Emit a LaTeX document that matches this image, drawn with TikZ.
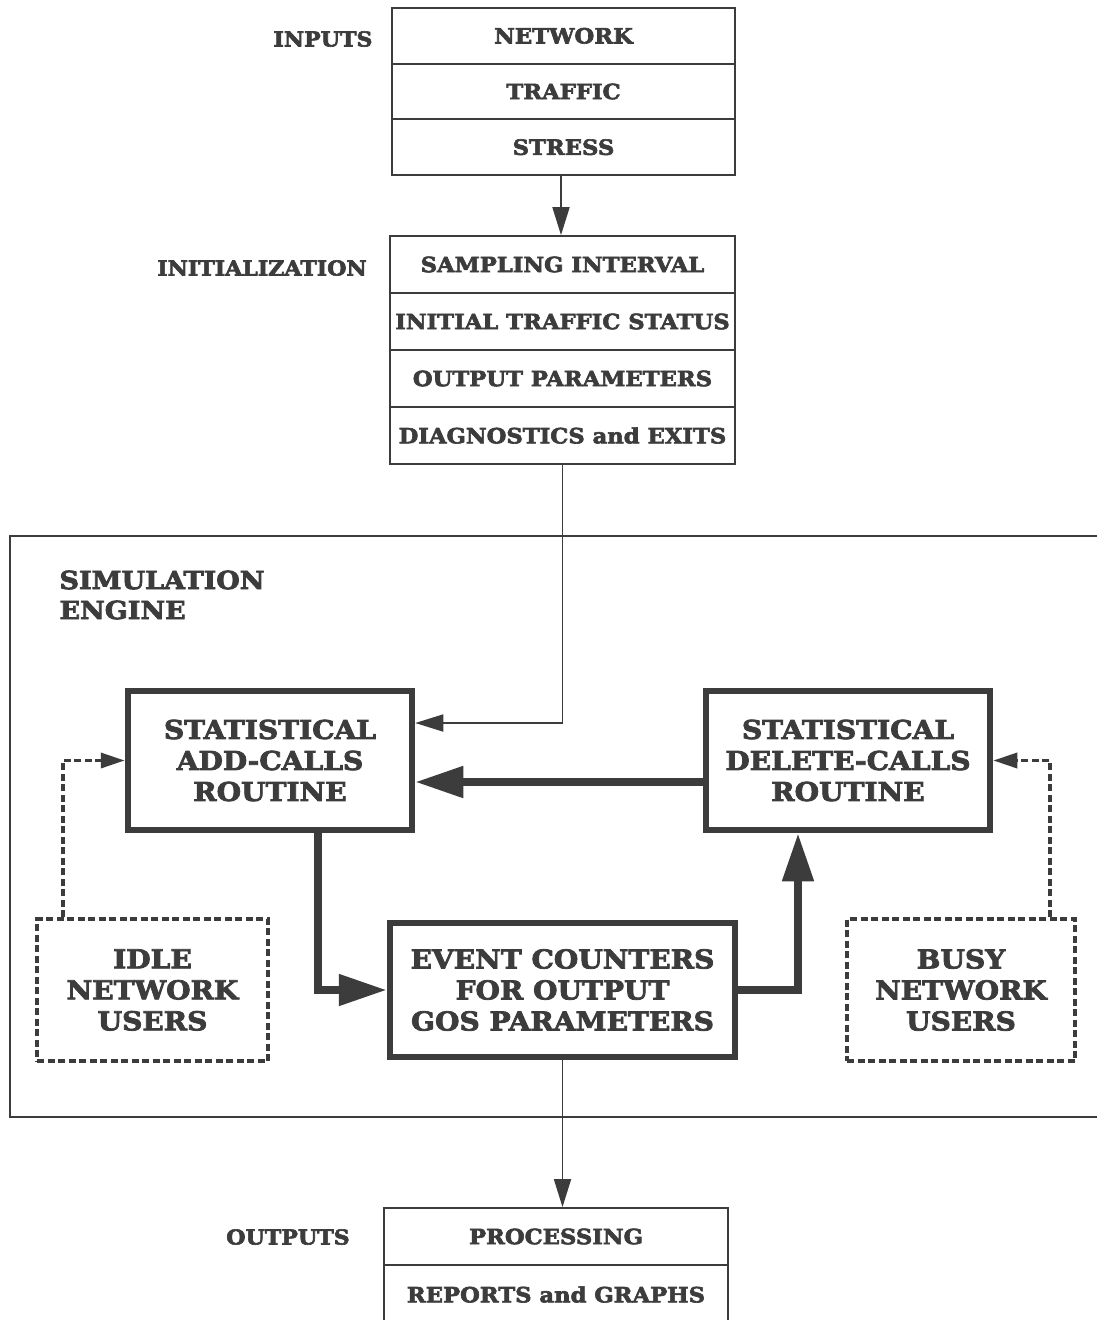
\documentclass[tikz,border=0pt]{standalone}
\usepackage{fontspec}
\setmainfont{DejaVu Serif}[FakeStretch=1.08,BoldFeatures={FakeBold=3}]
\usetikzlibrary{arrows.meta}
\definecolor{ink}{HTML}{3C3C3C}
\begin{document}
\begin{tikzpicture}[x=1pt,y=-1pt,
  every node/.style={text=ink,font=\bfseries},
  rowbox/.style={draw=ink,line width=1.8pt,inner sep=0pt,minimum height=57pt,font=\fontsize{21}{24}\selectfont\bfseries},
  sidelabel/.style={font=\fontsize{20.5}{24}\selectfont\bfseries},
  bigbox/.style={draw=ink,line width=6.5pt,inner sep=0pt,align=center,font=\fontsize{26}{31}\selectfont\bfseries},
  userbox/.style={draw=ink,line width=3.5pt,dash pattern=on 7pt off 3.5pt,inner sep=0pt,align=center,font=\fontsize{26}{31}\selectfont\bfseries},
  thinarrow/.style={draw=ink,line width=1.8pt,-{Triangle[length=28pt,width=17pt]}},
  heavyarrow/.style={draw=ink,line width=8pt,-{Triangle[length=48pt,width=30pt]}},
  dasharrow/.style={draw=ink,line width=3.5pt,dash pattern=on 7pt off 3.5pt,-{Triangle[length=24pt,width=15pt]}},
]
\useasboundingbox (0,0) rectangle (1097,1320);
\clip (0,0) rectangle (1097,1320);
\fill[white] (0,0) rectangle (1097,1320);

% inputs stack
\node[rowbox,minimum width=343pt,minimum height=55.7pt] (in1) at (563.5,35.8) {NETWORK};
\node[rowbox,minimum width=343pt,minimum height=55.7pt] (in2) at (563.5,91.5) {TRAFFIC};
\node[rowbox,minimum width=343pt,minimum height=55.7pt] (in3) at (563.5,147.2) {STRESS};
\node[sidelabel] (inlbl) at (323,39) {INPUTS};

% initialization stack
\node[rowbox,minimum width=345pt] (init1) at (562.5,264.5) {SAMPLING INTERVAL};
\node[rowbox,minimum width=345pt] (init2) at (562.5,321.5) {INITIAL TRAFFIC STATUS};
\node[rowbox,minimum width=345pt] (init3) at (562.5,378.5) {OUTPUT PARAMETERS};
\node[rowbox,minimum width=345pt] (init4) at (562.5,435.5) {DIAGNOSTICS and EXITS};
\node[sidelabel] (initlbl) at (262,268) {INITIALIZATION};

% simulation engine frame
\draw[ink,line width=1.8pt] (10,536) rectangle (1120,1117);
\node[anchor=west,align=left,font=\fontsize{25}{30}\selectfont\bfseries] (englbl) at (56,595) {SIMULATION\\ENGINE};

\node[bigbox,minimum width=284pt,minimum height=139pt] (add) at (270,760.5) {STATISTICAL\\ADD-CALLS\\ROUTINE};
\node[bigbox,minimum width=284pt,minimum height=139pt] (del) at (848,760.5) {STATISTICAL\\DELETE-CALLS\\ROUTINE};
\node[bigbox,minimum width=345pt,minimum height=134pt] (event) at (562.5,990) {EVENT COUNTERS\\FOR OUTPUT\\GOS PARAMETERS};
\node[userbox,minimum width=231pt,minimum height=142pt] (idle) at (152.5,990) {IDLE\\NETWORK\\USERS};
\node[userbox,minimum width=228pt,minimum height=142pt] (busy) at (961,990) {BUSY\\NETWORK\\USERS};

% outputs stack
\node[rowbox,minimum width=344pt] (out1) at (556,1236.5) {PROCESSING};
\node[rowbox,minimum width=344pt,minimum height=59pt] (out2) at (556,1294.5) {REPORTS and GRAPHS};
\node[sidelabel] (outlbl) at (288,1237) {OUTPUTS};

% connectors
\draw[thinarrow] (in3.south -| 561,0) -- (init1.north -| 561,0);
\draw[thinarrow] (init4.south) |- ([yshift=37.5pt]add.east);
\draw[heavyarrow] ([yshift=-21.5pt]del.west) -- ([yshift=-21.5pt]add.east);
\draw[heavyarrow] ([xshift=48pt]add.south) |- (event.west);
\draw[heavyarrow] (event.east) -| ([xshift=-50pt]del.south);
\draw[dasharrow] ([xshift=-89.5pt]idle.north) |- (add.west);
\draw[dasharrow] ([xshift=89pt]busy.north) |- (del.east);
\draw[thinarrow] (event.south) -- (event.south |- out1.north);
\end{tikzpicture}
\end{document}
